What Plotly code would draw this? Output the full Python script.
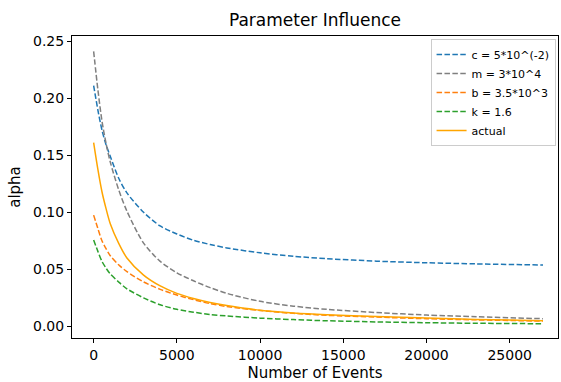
import plotly.graph_objects as go

# Number of events (x positions where values were read)
events = [0, 250, 500, 750, 1000, 1500, 2000, 3000, 4000, 5000, 6000, 7000, 8000,
          10000, 12000, 14000, 17000, 20000, 23000, 27000]

alpha_c = [0.211, 0.190, 0.172, 0.159, 0.149, 0.130, 0.117, 0.100, 0.088, 0.081, 0.0755,
           0.0718, 0.0688, 0.0645, 0.0615, 0.0594, 0.0572, 0.0558, 0.0548, 0.0538]
alpha_m = [0.241, 0.208, 0.180, 0.160, 0.144, 0.120, 0.101, 0.073, 0.057, 0.047, 0.040,
           0.034, 0.029, 0.022, 0.0178, 0.0150, 0.0122, 0.0100, 0.0085, 0.0068]
alpha_b = [0.0975, 0.086, 0.075, 0.068, 0.062, 0.054, 0.048, 0.039, 0.0325, 0.0275, 0.0235,
           0.0200, 0.0175, 0.0140, 0.0115, 0.0098, 0.0082, 0.0068, 0.0058, 0.0047]
alpha_k = [0.0757, 0.066, 0.057, 0.051, 0.046, 0.039, 0.033, 0.025, 0.019, 0.0150, 0.0125,
           0.0105, 0.0092, 0.0073, 0.0060, 0.0050, 0.0040, 0.0033, 0.0028, 0.0024]
alpha_actual = [0.161, 0.138, 0.118, 0.103, 0.090, 0.073, 0.060, 0.045, 0.0355, 0.0290, 0.0245,
                0.0210, 0.0183, 0.0142, 0.0118, 0.0103, 0.0088, 0.0074, 0.0062, 0.0050]

series_names = ["c = 5*10^(-2)", "m = 3*10^4", "b = 3.5*10^3", "k = 1.6", "actual"]
x_ticks = [0, 5000, 10000, 15000, 20000, 25000]
y_ticks = [0.00, 0.05, 0.10, 0.15, 0.20, 0.25]

dash = "5.5px,2.4px"
styles = [
    ("#1f77b4", dash),
    ("#7f7f7f", dash),
    ("#ff7f0e", dash),
    ("#2ca02c", dash),
    ("#ffa500", "solid"),
]
values = [alpha_c, alpha_m, alpha_b, alpha_k, alpha_actual]

fig = go.Figure()
for name, vals, (color, d) in zip(series_names, values, styles):
    fig.add_trace(go.Scatter(
        x=events, y=vals, mode="lines", name=name,
        line=dict(color=color, width=1.5, dash=d, shape="spline", smoothing=0.8),
    ))

font_family = "DejaVu Sans"
fig.update_layout(
    width=561, height=382,
    margin=dict(l=72, r=3, t=36, b=44, autoexpand=False),
    paper_bgcolor="white", plot_bgcolor="white",
    font=dict(family=font_family, color="black", size=14),
    title=dict(text="Parameter Influence", x=0.5, xref="paper", xanchor="center",
               y=1 - 20 / 382, yref="container", yanchor="middle",
               font=dict(size=17, family=font_family, color="black")),
    showlegend=True,
    legend=dict(x=0.995, y=0.99, xanchor="right", yanchor="top",
                bgcolor="rgba(255,255,255,0.8)", bordercolor="#cccccc", borderwidth=1,
                font=dict(size=11, family=font_family, color="black"),
                tracegroupgap=0),
)
fig.update_xaxes(
    range=[-1300, 27900], tickmode="array", tickvals=x_ticks,
    ticktext=[str(v) for v in x_ticks],
    showline=True, mirror=True, linecolor="black", linewidth=1,
    ticks="outside", ticklen=4, tickcolor="black", showgrid=False, zeroline=False,
    tickfont=dict(size=14),
    title=dict(text="Number of Events", font=dict(size=15), standoff=6),
)
fig.update_yaxes(
    range=[-0.0101, 0.2544], tickmode="array", tickvals=y_ticks,
    ticktext=["%.2f" % v for v in y_ticks],
    showline=True, mirror=True, linecolor="black", linewidth=1,
    ticks="outside", ticklen=4, tickcolor="black", showgrid=False, zeroline=False,
    tickfont=dict(size=14),
    title=dict(text="alpha", font=dict(size=15), standoff=8),
)

fig.write_html(
    "out.html",
    config={"displayModeBar": False},
    post_script="document.body.style.margin='0';document.body.style.overflow='hidden';",
)
